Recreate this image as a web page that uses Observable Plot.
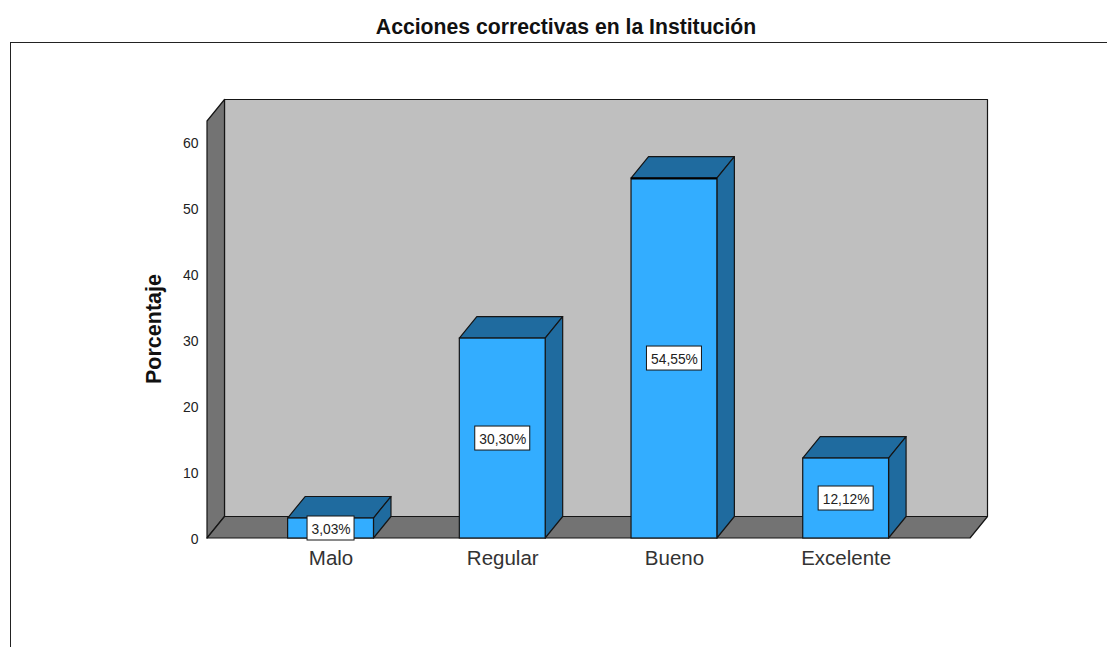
<!DOCTYPE html>
<html>
<head>
<meta charset="utf-8">
<style>
  html, body { margin: 0; padding: 0; background: #fff; overflow: hidden; }
  body { width: 1107px; height: 647px; position: relative; font-family: "Liberation Sans", Arial, sans-serif; }
  #title { position: absolute; left: 0; top: 15px; width: 1132px; text-align: center; font-size: 21.2px; font-weight: bold; color: #111; line-height: 24px; }
  #frame { position: absolute; left: 10px; top: 42px; width: 1097px; height: 605px; border-top: 1.5px solid #222; border-left: 1.5px solid #222; box-sizing: border-box; }
  #chart { position: absolute; left: 0; top: 44px; }
  #chart svg { display: block; }
</style>
<script src="https://cdn.jsdelivr.net/npm/d3@7"></script>
<script src="https://cdn.jsdelivr.net/npm/@observablehq/plot@0.6"></script>
</head>
<body>
<div id="title">Acciones correctivas en la Institución</div>
<div id="frame"></div>
<div id="chart"></div>
<script>
const categories = ["Malo", "Regular", "Bueno", "Excelente"];
const percentages = [3.03, 30.30, 54.55, 12.12];
const valueLabels = ["3,03%", "30,30%", "54,55%", "12,12%"];
const yTicks = [0, 10, 20, 30, 40, 50, 60];
const rows = categories.map((category, i) => ({category, value: percentages[i], label: valueLabels[i]}));

const DX = 17.5, DY = -21.5;
const LINE = "#151515";
const WALL = "#bfbfbf", SIDE = "#737373";
const FRONT = "#33adff", DARK = "#1f6b9f";

const bandOf = x => typeof x.bandwidth === "function" ? x.bandwidth() : x.bandwidth;

function poly(parent, pts, fill) {
  parent.append("path")
    .attr("d", "M" + pts.map(p => p.join(",")).join("L") + "Z")
    .attr("fill", fill).attr("stroke", LINE).attr("stroke-width", 1.2).attr("stroke-linejoin", "round");
}

// Back wall, left wall and floor of the 3D box, from the frame and the y scale
function box(index, {y}, values, {width, marginLeft, marginRight}) {
  const g = d3.create("svg:g");
  const l = marginLeft, r = width - marginRight;
  const [d0, d1] = y.domain();
  const b = y(d0), t = y(d1);
  poly(g, [[l + DX, t + DY], [r + DX, t + DY], [r + DX, b + DY], [l + DX, b + DY]], WALL);
  poly(g, [[l, t], [l + DX, t + DY], [l + DX, b + DY], [l, b]], SIDE);
  poly(g, [[l, b], [l + DX, b + DY], [r + DX, b + DY], [r, b]], SIDE);
  return g.node();
}

// Top and side faces of each bar
function faces(index, {x, y}) {
  const g = d3.create("svg:g");
  const w = bandOf(x);
  for (const row of rows) {
    const x0 = x(row.category), x1 = x0 + w, yt = y(row.value), yb = y(0);
    poly(g, [[x0, yt], [x0 + DX, yt + DY], [x1 + DX, yt + DY], [x1, yt]], DARK);
    poly(g, [[x1, yt], [x1 + DX, yt + DY], [x1 + DX, yb + DY], [x1, yb]], DARK);
  }
  return g.node();
}

// White boxes behind the value labels
function labelBoxes(index, {x, y}) {
  const g = d3.create("svg:g");
  const w = bandOf(x);
  for (const row of rows) {
    const bw = row.label.length * 8 + 7, bh = 24;
    g.append("rect")
      .attr("x", x(row.category) + w / 2 - bw / 2)
      .attr("y", y(row.value / 2) - bh / 2)
      .attr("width", bw).attr("height", bh)
      .attr("fill", "#fff").attr("stroke", LINE).attr("stroke-width", 1);
  }
  return g.node();
}

const chart = Plot.plot({
  width: 1107,
  height: 603,
  marginLeft: 207,
  marginRight: 137,
  marginTop: 77,
  marginBottom: 109,
  style: {fontFamily: "'Liberation Sans', Arial, sans-serif", background: "transparent", overflow: "visible"},
  x: {type: "band", domain: categories, range: [244.7, 931.5], round: false, paddingInner: 0.5, paddingOuter: 0.25, label: null},
  y: {domain: [0, 63.2], range: [494, 77], label: null},
  marks: [
    box,
    faces,
    Plot.barY(rows, {x: "category", y: "value", fill: FRONT, stroke: LINE, strokeWidth: 1.2, insetLeft: 0, insetRight: 0}),
    Plot.tickY(rows.filter(d => d.category === "Bueno"), {x: "category", y: "value", stroke: "#000", strokeWidth: 2}),
    labelBoxes,
    Plot.text(rows, {x: "category", y: d => d.value / 2, text: "label", fontSize: 13.8, dy: 1, fill: "#222"}),
    Plot.axisX({tickSize: 0, tickPadding: 12, fontSize: 20.5, fill: "#333"}),
    Plot.axisY({ticks: yTicks, tickSize: 0, tickPadding: 9, fontSize: 14, dy: 0.7, fill: "#222", label: null}),
    Plot.text(["Porcentaje"], {frameAnchor: "left", textAnchor: "middle", dx: -53.5, dy: -1, rotate: -90, fontSize: 21.5, fontWeight: "bold", fill: "#111"})
  ]
});
document.getElementById("chart").append(chart);
</script>
</body>
</html>
